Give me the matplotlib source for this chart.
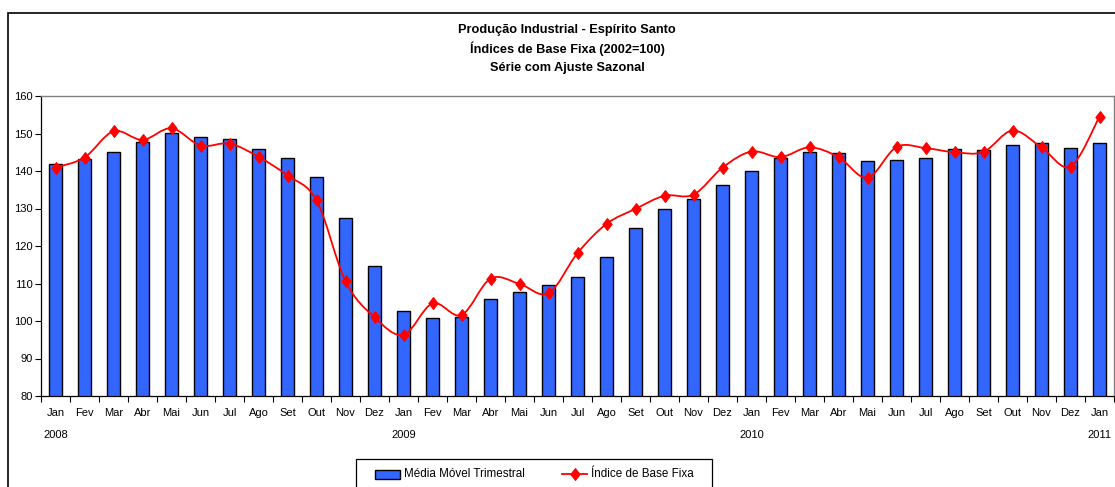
import matplotlib
matplotlib.use("Agg")
import matplotlib.pyplot as plt
import numpy as np
from matplotlib.path import Path
from matplotlib.patches import PathPatch, Rectangle
from matplotlib.lines import Line2D
import matplotlib.transforms as mtransforms

plt.rcParams['font.family'] = ['Liberation Sans', 'DejaVu Sans']

months = ["Jan", "Fev", "Mar", "Abr", "Mai", "Jun", "Jul", "Ago", "Set", "Out", "Nov", "Dez",
          "Jan", "Fev", "Mar", "Abr", "Mai", "Jun", "Jul", "Ago", "Set", "Out", "Nov", "Dez",
          "Jan", "Fev", "Mar", "Abr", "Mai", "Jun", "Jul", "Ago", "Set", "Out", "Nov", "Dez",
          "Jan"]
years = {0: "2008", 12: "2009", 24: "2010", 36: "2011"}

media_movel = [141.8, 143.2, 145.2, 147.7, 150.2, 149.0, 148.5, 146.0, 143.5, 138.4, 127.5, 114.7,
               102.7, 100.7, 101.0, 106.0, 107.7, 109.6, 111.8, 117.2, 124.7, 129.9, 132.5, 136.2,
               140.1, 143.5, 145.2, 144.7, 142.8, 142.9, 143.6, 146.0, 145.5, 147.0, 147.5, 146.1,
               147.4]
indice = [140.9, 143.6, 150.6, 148.3, 151.4, 146.8, 147.3, 143.8, 138.8, 132.2, 110.6, 101.0,
          96.3, 104.7, 101.6, 111.3, 109.9, 107.4, 118.1, 125.9, 129.9, 133.4, 133.7, 140.9,
          145.2, 143.7, 146.3, 143.7, 138.2, 146.4, 146.1, 145.0, 145.1, 150.8, 146.3, 141.2,
          154.5]

title_lines = ["Produção Industrial - Espírito Santo",
               "Índices de Base Fixa (2002=100)",
               "Série com Ajuste Sazonal"]
legend_labels = ["Média Móvel Trimestral", "Índice de Base Fixa"]

BAR_COLOR = "#3366FF"
LINE_COLOR = "#FF0000"
DIAMOND = [(0, 1), (0.78, 0), (0, -1), (-0.78, 0), (0, 1)]

W, H = 1115, 487
fig = plt.figure(figsize=(W / 100, H / 100), dpi=100)
ax = fig.add_axes([41 / W, 1 - 396 / H, (1114 - 41) / W, 300 / H])

x = np.arange(len(months))

# bar shadow
ax.bar(x + 0.05, media_movel, width=0.44, color="#A0A0A0", edgecolor="none", zorder=1)
ax.bar(x, media_movel, width=0.44, color=BAR_COLOR, edgecolor="black", linewidth=1.0, zorder=2)

# smoothed line (Bezier through data points)
pts = np.column_stack([x, indice]).astype(float)
n = len(pts)
verts = [tuple(pts[0])]
codes = [Path.MOVETO]
for i in range(n - 1):
    p0 = pts[i - 1] if i > 0 else pts[i]
    p1 = pts[i]
    p2 = pts[i + 1]
    p3 = pts[i + 2] if i + 2 < n else pts[i + 1]
    c1 = p1 + (p2 - p0) / 6.0
    c2 = p2 - (p3 - p1) / 6.0
    verts += [tuple(c1), tuple(c2), tuple(p2)]
    codes += [Path.CURVE4] * 3
ax.add_patch(PathPatch(Path(verts, codes), facecolor="none", edgecolor=LINE_COLOR, lw=1.3, zorder=3))
ax.plot(x, indice, linestyle="none", marker=DIAMOND, markersize=8.5, color=LINE_COLOR,
        markeredgecolor=LINE_COLOR, markeredgewidth=0.8, zorder=4)

ax.set_xlim(-0.5, len(months) - 0.5)
ax.set_ylim(80, 160)
ax.set_yticks(np.arange(80, 161, 10))
ax.tick_params(axis="y", direction="out", length=4, width=0.8, labelsize=8, pad=2)

ax.set_xticks(x)
ax.set_xticklabels(months)
ax.tick_params(axis="x", which="major", length=0, labelsize=8, pad=9)
ax.set_xticks(np.arange(-0.5, len(months), 1.0), minor=True)
ax.tick_params(axis="x", which="minor", direction="out", length=4, width=0.8)

trans = mtransforms.blended_transform_factory(ax.transData, ax.transAxes)
for k, yr in years.items():
    ax.text(k, -0.13, yr, transform=trans, ha="center", va="center", fontsize=8)

for side in ["top", "right"]:
    ax.spines[side].set_color("#808080")
    ax.spines[side].set_linewidth(1.0)
for side in ["left", "bottom"]:
    ax.spines[side].set_color("black")
    ax.spines[side].set_linewidth(0.9)

# titles
for i, t in enumerate(title_lines):
    fig.text(567 / W, 1 - (30 + 19 * i) / H, t, ha="center", va="center",
             fontsize=9.2, fontweight="bold")

# outer chart frame
fig.add_artist(Rectangle((8 / W, -0.2), 1.2, 1.2 - 13 / H, transform=fig.transFigure,
                         fill=False, edgecolor="black", lw=1.2))

# legend (manual)
ft = fig.transFigure
fig.add_artist(Rectangle((356 / W, -0.1), (712 - 356) / W, 0.1 + 1 - 459 / H, transform=ft,
                         fill=False, edgecolor="black", lw=0.9))
ly = 1 - 474 / H
fig.add_artist(Rectangle((375 / W, 1 - 478.5 / H), 25 / W, 8.5 / H, transform=ft,
                         facecolor=BAR_COLOR, edgecolor="black", lw=1.0))
fig.text(404 / W, ly, legend_labels[0], ha="left", va="center", fontsize=8.4)
fig.add_artist(Line2D([562 / W, 587 / W], [ly, ly], transform=ft, color=LINE_COLOR, lw=1.3))
fig.add_artist(Line2D([574.5 / W], [ly], transform=ft, color=LINE_COLOR, marker=DIAMOND,
                      markersize=8.5, markeredgewidth=0.8, linestyle="none"))
fig.text(591 / W, ly, legend_labels[1], ha="left", va="center", fontsize=8.4)

fig.savefig("out.png", dpi=100)
